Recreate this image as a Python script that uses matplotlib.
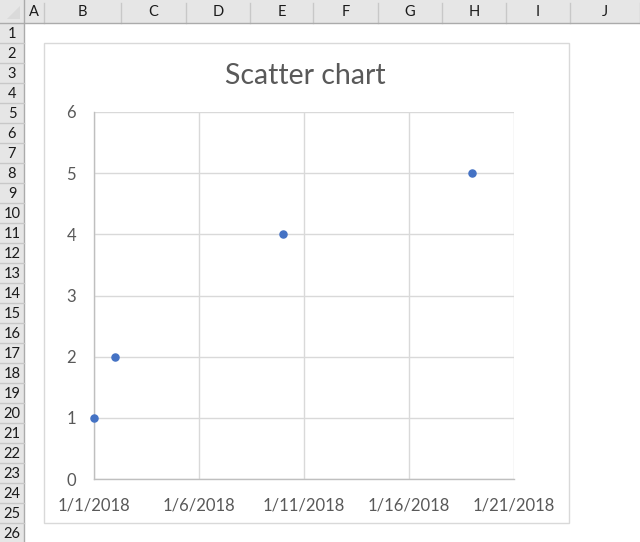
import datetime as dt
import matplotlib
matplotlib.use("Agg")
import matplotlib.pyplot as plt
import matplotlib.dates as mdates
from matplotlib.patches import Rectangle, Polygon

# Data
dates = [dt.datetime(2018, 1, 1), dt.datetime(2018, 1, 2),
         dt.datetime(2018, 1, 10), dt.datetime(2018, 1, 19)]
values = [1, 2, 4, 5]
x_start = dt.datetime(2018, 1, 1)
x_end = dt.datetime(2018, 1, 21)
y_ticks = [0, 1, 2, 3, 4, 5, 6]
col_letters = ["A", "B", "C", "D", "E", "F", "G", "H", "I", "J"]
col_edges = [24, 44, 121, 186, 250, 313, 378, 442, 506, 570, 640]
n_rows = 26

W, H = 640, 542
FONT = ["Lato", "DejaVu Sans"]
TXT = "#595959"

fig = plt.figure(figsize=(W / 100, H / 100), dpi=100)

# Spreadsheet background
bg = fig.add_axes([0, 0, 1, 1])
bg.set_xlim(0, W)
bg.set_ylim(H, 0)
bg.axis("off")

head_h = 23
row_h = 20
bg.add_patch(Rectangle((0, 0), W, head_h, facecolor="#E6E6E6", edgecolor="none"))
bg.add_patch(Rectangle((0, 0), 24, H, facecolor="#E6E6E6", edgecolor="none"))
bg.add_patch(Polygon([[20, 6], [20, 19], [7, 19]], closed=True,
                     facecolor="#DADADA", edgecolor="none"))

for i, letter in enumerate(col_letters):
    x0, x1 = col_edges[i], col_edges[i + 1]
    bg.plot([x1, x1], [3, head_h], color="#C8C8C8", lw=1)
    bg.text((x0 + x1) / 2, 12, letter, ha="center", va="center",
            fontsize=10.5, color="#1a1a1a", family=FONT)
bg.plot([24, 24], [0, H], color="#ABABAB", lw=1)
bg.plot([0, W], [head_h, head_h], color="#ABABAB", lw=1)

for r in range(n_rows):
    y0 = head_h + r * row_h
    bg.plot([0, 24], [y0 + row_h, y0 + row_h], color="#C8C8C8", lw=1)
    bg.text(12, y0 + row_h / 2 + 1, str(r + 1), ha="center", va="center",
            fontsize=10.5, color="#1a1a1a", family=FONT)

# Chart area
bg.add_patch(Rectangle((44, 43), 525, 480, facecolor="white",
                       edgecolor="#D9D9D9", lw=1))
bg.text(305, 84, "Scatter chart", ha="center", va="baseline",
        fontsize=20.5, color=TXT, family=FONT)

# Plot area
px_l, px_r, px_t, px_b = 94, 514, 112, 479
ax = fig.add_axes([px_l / W, 1 - px_b / H, (px_r - px_l) / W, (px_b - px_t) / H])
ax.scatter(dates, values, s=26, color="#4472C4", zorder=3, clip_on=False)

ax.set_xlim(x_start, x_end)
ax.set_ylim(0, 6)
ax.set_yticks(y_ticks)
ax.xaxis.set_major_locator(mdates.DayLocator(bymonthday=[1, 6, 11, 16, 21]))
ax.xaxis.set_major_formatter(
    plt.FuncFormatter(lambda v, p: "{d.month}/{d.day}/{d.year}".format(d=mdates.num2date(v))))

ax.grid(True, color="#D9D9D9", lw=1)
ax.set_axisbelow(True)
for side in ["top", "right"]:
    ax.spines[side].set_visible(False)
for side in ["left", "bottom"]:
    ax.spines[side].set_color("#BFBFBF")
    ax.spines[side].set_linewidth(1)

ax.tick_params(axis="both", length=0, labelsize=12, labelcolor=TXT)
ax.tick_params(axis="y", pad=13)
ax.tick_params(axis="x", pad=13)
for lab in ax.get_xticklabels() + ax.get_yticklabels():
    lab.set_family(FONT)

fig.savefig("out.png", dpi=100)
